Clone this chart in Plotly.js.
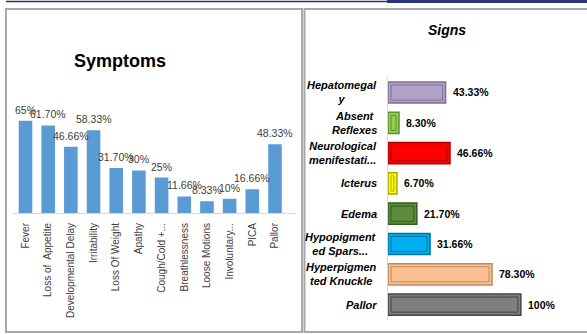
<!DOCTYPE html>
<html><head><meta charset="utf-8">
<script src="https://cdn.plot.ly/plotly-3.0.1.min.js"></script>
<style>html,body{margin:0;padding:0;background:#fff}#chart{width:587px;height:334px}</style>
</head><body><div id="chart"></div>
<script>
// ---- Symptoms (left column chart) ----
const symptomCategories = ["Fever","Loss of  Appetite","Developmental Delay","Irritability","Loss Of Weight","Apathy","Cough/Cold +...","Breathlessness","Loose Motions","Involuntary...","PICA","Pallor"];
const symptomValues = [65, 61.70, 46.66, 58.33, 31.70, 30, 25, 11.66, 8.33, 10, 16.66, 48.33];
const symptomText = ["65%","61.70%","46.66%","58.33%","31.70%","30%","25%","11.66%","8.33%","10%","16.66%","48.33%"];

// ---- Signs (right horizontal bar chart) ----
const signCategories = ["Hepatomegaly","Absent Reflexes","Neurological menifestation","Icterus","Edema","Hypopigmented Sparse Hair","Hyperpigmented Knuckle","Pallor"];
const signTickLabels = ["Hepatomegal<br>y","Absent<br>Reflexes","Neurological<br>menifestati...","Icterus","Edema","Hypopigment<br>ed Spars...","Hyperpigmen<br>ted Knuckle","Pallor"];
const signValues = [43.33, 8.30, 46.66, 6.70, 21.70, 31.66, 78.30, 100];
const signText = ["43.33%","8.30%","46.66%","6.70%","21.70%","31.66%","78.30%","100%"];

// styles
const signFill = ["#b3a2c7","#92d050","#ff0000","#ffff00","#5b8c3c","#00b0f0","#fac08f","#7f7f7f"];
const signEdge = ["#7d6e94","#5e8f2c","#a80000","#a8a800","#355a20","#00729e","#c0895c","#454545"];
const FONT = "Liberation Sans, Arial, sans-serif";
const INSET = 2.25; // inner bevel inset (x units)

const traces = [
  {
    type: "bar", x: symptomCategories, y: symptomValues, xaxis: "x", yaxis: "y",
    width: 0.6, marker: {color: "#5b9bd5", line: {width: 0}}, hoverinfo: "skip"
  },
  {
    type: "bar", orientation: "h", y: signCategories, x: signValues, xaxis: "x2", yaxis: "y2",
    width: 0.7, marker: {color: signFill, line: {color: signEdge, width: 1.5}}, hoverinfo: "skip"
  },
  {
    type: "bar", orientation: "h", y: signCategories,
    x: signValues.map(v => Math.max(v - 2 * INSET, 0.3)), base: INSET,
    xaxis: "x2", yaxis: "y2", width: 0.5,
    marker: {color: "rgba(0,0,0,0)", line: {color: signEdge, width: 1}}, hoverinfo: "skip"
  }
];

const annotations = [];
// titles
annotations.push({xref: "paper", yref: "paper", x: 119.5/587, y: 1 - 61/334, text: "Symptoms",
  showarrow: false, xanchor: "center", yanchor: "middle",
  font: {family: FONT, size: 18, color: "#000", weight: "bold"}});
annotations.push({xref: "paper", yref: "paper", x: 447/587, y: 1 - 30/334, text: "Signs",
  showarrow: false, xanchor: "center", yanchor: "middle",
  font: {family: FONT, size: 14, color: "#000", weight: "bold", style: "italic"}});
// symptom data labels
symptomCategories.forEach((c, i) => annotations.push({
  xref: "x", yref: "y", x: c, y: symptomValues[i], text: symptomText[i], showarrow: false,
  xanchor: "center", yanchor: "bottom", yshift: 3,
  font: {family: FONT, size: 10.5, color: "#404040"}
}));
// sign data labels
signCategories.forEach((c, i) => annotations.push({
  xref: "x2", yref: "y2", x: signValues[i], y: c, text: signText[i], showarrow: false,
  xanchor: "left", yanchor: "middle", xshift: 5,
  font: {family: FONT, size: 10.5, color: "#000", weight: "bold"}
}));
// sign category labels (centered, wrapped)
signCategories.forEach((c, i) => annotations.push({
  xref: "x2", yref: "y2", x: 0, y: c, text: signTickLabels[i], showarrow: false,
  xanchor: "right", yanchor: "middle", xshift: -9, align: "center",
  font: {family: FONT, size: 11, color: "#000", weight: "bold", style: "italic"}
}));

const shapes = [
  {type: "rect", xref: "paper", yref: "paper", x0: 6/587, x1: 302/587, y0: 1 - 332/334, y1: 1 - 9/334,
   line: {color: "#a8a8a8", width: 2}},
  {type: "rect", xref: "paper", yref: "paper", x0: 304.5/587, x1: 1.02, y0: 1 - 332/334, y1: 1 - 9/334,
   line: {color: "#a8a8a8", width: 2}},
  {type: "line", xref: "paper", yref: "paper", x0: 6/587, x1: 387/587, y0: 1 - 1.5/334, y1: 1 - 1.5/334,
   line: {color: "#2a3378", width: 1.5}},
  {type: "rect", xref: "paper", yref: "paper", x0: 387/587, x1: 1, y0: 1 - 3/334, y1: 1,
   fillcolor: "#2a3378", line: {width: 0}}
];

const layout = {
  width: 587, height: 334, margin: {l: 0, r: 0, t: 0, b: 0},
  paper_bgcolor: "#fff", plot_bgcolor: "rgba(0,0,0,0)",
  showlegend: false, barmode: "overlay",
  font: {family: FONT},
  xaxis: {domain: [13/587, 295/587], anchor: "y", type: "category",
    showline: true, linecolor: "#d9d9d9", linewidth: 1, showgrid: false, zeroline: false,
    ticks: "", tickangle: -90, ticklabelstandoff: 5,
    tickfont: {family: FONT, size: 10, color: "#404040"}, fixedrange: true},
  yaxis: {domain: [1 - 213/334, 1 - 99.4/334], anchor: "x", range: [0, 80], visible: false, fixedrange: true},
  xaxis2: {domain: [388/587, 574/587], anchor: "y2", range: [0, 140], visible: false, fixedrange: true},
  yaxis2: {domain: [1 - 319.75/334, 1 - 77.35/334], anchor: "x2", type: "category",
    categoryorder: "array", categoryarray: signCategories, autorange: "reversed",
    showline: true, linecolor: "#d9d9d9", linewidth: 1, showgrid: false, zeroline: false,
    showticklabels: false, ticks: "", fixedrange: true},
  annotations: annotations,
  shapes: shapes
};

Plotly.newPlot("chart", traces, layout, {staticPlot: true, displayModeBar: false});
</script>
</body></html>
